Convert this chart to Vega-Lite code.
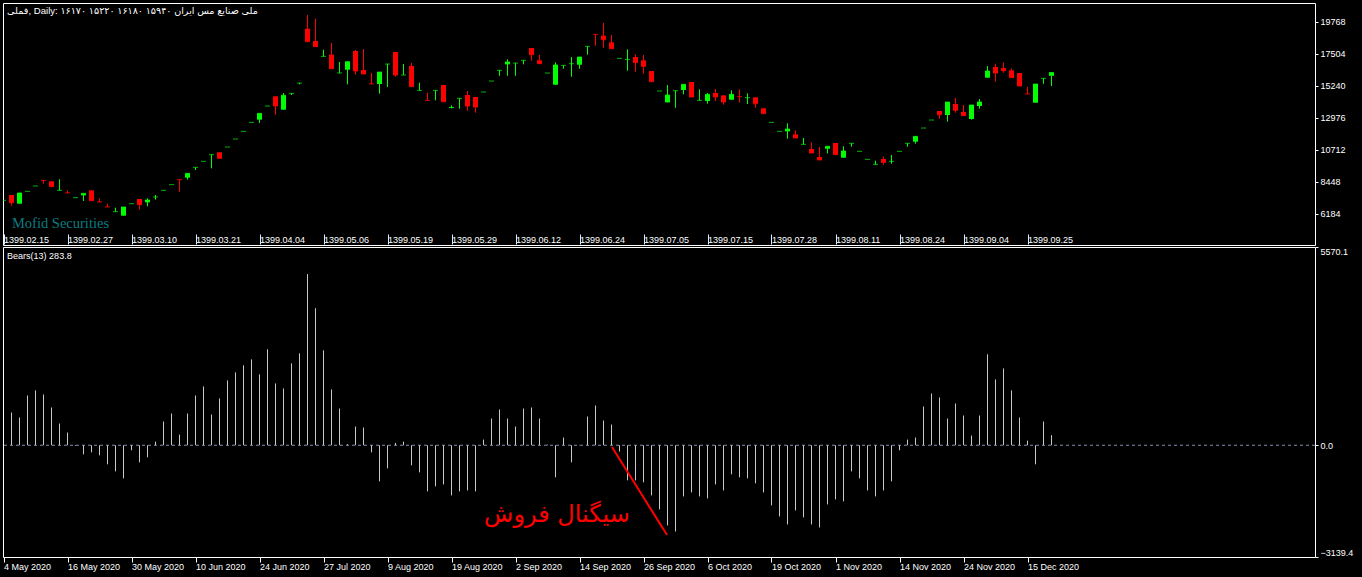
{
  "$schema": "https://vega.github.io/schema/vega-lite/v6.json",
  "background": "black",
  "padding": {"left": 2, "top": 2, "right": 15, "bottom": 10},
  "spacing": 2,
  "bounds": "flush",
  "config": {
    "view": {"stroke": "white", "strokeWidth": 1},
    "axis": {"labelColor": "white", "tickColor": "white", "domain": false, "grid": false, "labelFont": "Liberation Sans", "labelFontSize": 9, "title": null}
  },
  "datasets": {
    "candles": [
      {"i":0,"o":7129,"h":7129,"l":7129,"c":7129},
      {"i":1,"o":7506,"h":7506,"l":6752,"c":6964},
      {"i":2,"o":6893,"h":7648,"l":6893,"c":7648},
      {"i":3,"o":7766,"h":7766,"l":7766,"c":7766},
      {"i":4,"o":8143,"h":8143,"l":8143,"c":8143},
      {"i":5,"o":8564,"h":8564,"l":8308,"c":8544},
      {"i":6,"o":8473,"h":8473,"l":8096,"c":8096},
      {"i":7,"o":7836,"h":8615,"l":7836,"c":7836},
      {"i":8,"o":7668,"h":7836,"l":7648,"c":7648},
      {"i":9,"o":7318,"h":7318,"l":7318,"c":7318},
      {"i":10,"o":7483,"h":7624,"l":7082,"c":7624},
      {"i":11,"o":7836,"h":7836,"l":7106,"c":7106},
      {"i":12,"o":7031,"h":7271,"l":7011,"c":7011},
      {"i":13,"o":6678,"h":6893,"l":6658,"c":6658},
      {"i":14,"o":6327,"h":6610,"l":6327,"c":6327},
      {"i":15,"o":6044,"h":6658,"l":6044,"c":6658},
      {"i":16,"o":6893,"h":6893,"l":6893,"c":6893},
      {"i":17,"o":7224,"h":7224,"l":6469,"c":6823},
      {"i":18,"o":6988,"h":7271,"l":6705,"c":7153},
      {"i":19,"o":7365,"h":7506,"l":7176,"c":7365},
      {"i":20,"o":7836,"h":7836,"l":7836,"c":7836},
      {"i":21,"o":8237,"h":8237,"l":8237,"c":8237},
      {"i":22,"o":8611,"h":8611,"l":7742,"c":8591},
      {"i":23,"o":8733,"h":9039,"l":8591,"c":9039},
      {"i":24,"o":9463,"h":9463,"l":9275,"c":9463},
      {"i":25,"o":9888,"h":9888,"l":9888,"c":9888},
      {"i":26,"o":10360,"h":10360,"l":9393,"c":10360},
      {"i":27,"o":10525,"h":10525,"l":10100,"c":10100},
      {"i":28,"o":10902,"h":10902,"l":10902,"c":10902},
      {"i":29,"o":11468,"h":11468,"l":11468,"c":11468},
      {"i":30,"o":12010,"h":12010,"l":12010,"c":12010},
      {"i":31,"o":12647,"h":12647,"l":12647,"c":12647},
      {"i":32,"o":12835,"h":13283,"l":12600,"c":13283},
      {"i":33,"o":13802,"h":13802,"l":13802,"c":13802},
      {"i":34,"o":14486,"h":14486,"l":13189,"c":13802},
      {"i":35,"o":13543,"h":14722,"l":13543,"c":14557},
      {"i":36,"o":14699,"h":14699,"l":14581,"c":14699},
      {"i":37,"o":15429,"h":15429,"l":15335,"c":15429},
      {"i":38,"o":19273,"h":20240,"l":18353,"c":18353},
      {"i":39,"o":18400,"h":19980,"l":18000,"c":18000},
      {"i":40,"o":17316,"h":17787,"l":17316,"c":17316},
      {"i":41,"o":17434,"h":18259,"l":16443,"c":16443},
      {"i":42,"o":16137,"h":16915,"l":16137,"c":16137},
      {"i":43,"o":16372,"h":16938,"l":15335,"c":16938},
      {"i":44,"o":17693,"h":17764,"l":16019,"c":16278},
      {"i":45,"o":16349,"h":17834,"l":16066,"c":16066},
      {"i":46,"o":15379,"h":16137,"l":15359,"c":15359},
      {"i":47,"o":15359,"h":16207,"l":14675,"c":16207},
      {"i":48,"o":16773,"h":16773,"l":15146,"c":16773},
      {"i":49,"o":17622,"h":17622,"l":15877,"c":15995},
      {"i":50,"o":15995,"h":16773,"l":15995,"c":15995},
      {"i":51,"o":16632,"h":16844,"l":15170,"c":15170},
      {"i":52,"o":14910,"h":15453,"l":14910,"c":14910},
      {"i":53,"o":14223,"h":14745,"l":14203,"c":14203},
      {"i":54,"o":14910,"h":14910,"l":14203,"c":14910},
      {"i":55,"o":15288,"h":15288,"l":14109,"c":14109},
      {"i":56,"o":13660,"h":13849,"l":13637,"c":13700},
      {"i":57,"o":14345,"h":14345,"l":13614,"c":14345},
      {"i":58,"o":14580,"h":14863,"l":13472,"c":13802},
      {"i":59,"o":14439,"h":14439,"l":13331,"c":13732},
      {"i":60,"o":14793,"h":14793,"l":14793,"c":14793},
      {"i":61,"o":15571,"h":15571,"l":15571,"c":15571},
      {"i":62,"o":16325,"h":16325,"l":15948,"c":16325},
      {"i":63,"o":16750,"h":17103,"l":15948,"c":16915},
      {"i":64,"o":16844,"h":16844,"l":15948,"c":16844},
      {"i":65,"o":17033,"h":17033,"l":16750,"c":17033},
      {"i":66,"o":17905,"h":17905,"l":17009,"c":17434},
      {"i":67,"o":17033,"h":17410,"l":16797,"c":16797},
      {"i":68,"o":16137,"h":16137,"l":16137,"c":16137},
      {"i":69,"o":15311,"h":16891,"l":15311,"c":16703},
      {"i":70,"o":16679,"h":16679,"l":16443,"c":16679},
      {"i":71,"o":16797,"h":17268,"l":15877,"c":16797},
      {"i":72,"o":16726,"h":17268,"l":16443,"c":17268},
      {"i":73,"o":18023,"h":18023,"l":17434,"c":18023},
      {"i":74,"o":18892,"h":18892,"l":18070,"c":18872},
      {"i":75,"o":18778,"h":19674,"l":17929,"c":18495},
      {"i":76,"o":18306,"h":18825,"l":17858,"c":17858},
      {"i":77,"o":17174,"h":17174,"l":17174,"c":17174},
      {"i":78,"o":17103,"h":17811,"l":16302,"c":17103},
      {"i":79,"o":17268,"h":17457,"l":16231,"c":16868},
      {"i":80,"o":17033,"h":17410,"l":16090,"c":16608},
      {"i":81,"o":16278,"h":16278,"l":15523,"c":15523},
      {"i":82,"o":14863,"h":14863,"l":14863,"c":14863},
      {"i":83,"o":14062,"h":15288,"l":14062,"c":14580},
      {"i":84,"o":14887,"h":14887,"l":13684,"c":14887},
      {"i":85,"o":14934,"h":15335,"l":14628,"c":15335},
      {"i":86,"o":15500,"h":15500,"l":14439,"c":14439},
      {"i":87,"o":14203,"h":14981,"l":14203,"c":14203},
      {"i":88,"o":14156,"h":14722,"l":13967,"c":14628},
      {"i":89,"o":14722,"h":15005,"l":14156,"c":14439},
      {"i":90,"o":14557,"h":14557,"l":13897,"c":14085},
      {"i":91,"o":14250,"h":14910,"l":14250,"c":14628},
      {"i":92,"o":14483,"h":14981,"l":14038,"c":14463},
      {"i":93,"o":14392,"h":14698,"l":13944,"c":14392},
      {"i":94,"o":14415,"h":14415,"l":13684,"c":13967},
      {"i":95,"o":13637,"h":13637,"l":13260,"c":13260},
      {"i":96,"o":12647,"h":12647,"l":12647,"c":12647},
      {"i":97,"o":12010,"h":12010,"l":12010,"c":12010},
      {"i":98,"o":12010,"h":12576,"l":11491,"c":12175},
      {"i":99,"o":11798,"h":12081,"l":11539,"c":11539},
      {"i":100,"o":11091,"h":11539,"l":11091,"c":11091},
      {"i":101,"o":10760,"h":11232,"l":10477,"c":10477},
      {"i":102,"o":10195,"h":10902,"l":9982,"c":9982},
      {"i":103,"o":10784,"h":10949,"l":10454,"c":10949},
      {"i":104,"o":11185,"h":11185,"l":10360,"c":10360},
      {"i":105,"o":10147,"h":10949,"l":10147,"c":10619},
      {"i":106,"o":11161,"h":11161,"l":10925,"c":11161},
      {"i":107,"o":10595,"h":10595,"l":10595,"c":10595},
      {"i":108,"o":10029,"h":10029,"l":10029,"c":10029},
      {"i":109,"o":9676,"h":9935,"l":9676,"c":9676},
      {"i":110,"o":10053,"h":10218,"l":9652,"c":9817},
      {"i":111,"o":9888,"h":10336,"l":9723,"c":9888},
      {"i":112,"o":10595,"h":10595,"l":10595,"c":10595},
      {"i":113,"o":11161,"h":11161,"l":10925,"c":11161},
      {"i":114,"o":11279,"h":11657,"l":11137,"c":11657},
      {"i":115,"o":12246,"h":12246,"l":12246,"c":12246},
      {"i":116,"o":12812,"h":12812,"l":12812,"c":12812},
      {"i":117,"o":13449,"h":13449,"l":12906,"c":13189},
      {"i":118,"o":13166,"h":14085,"l":12694,"c":14085},
      {"i":119,"o":13944,"h":14368,"l":13331,"c":13496},
      {"i":120,"o":13378,"h":13873,"l":13118,"c":13118},
      {"i":121,"o":12882,"h":13873,"l":12835,"c":13873},
      {"i":122,"o":13802,"h":14297,"l":13614,"c":14085},
      {"i":123,"o":15807,"h":16632,"l":15807,"c":16278},
      {"i":124,"o":16561,"h":16797,"l":15523,"c":16137},
      {"i":125,"o":16490,"h":16891,"l":16160,"c":16302},
      {"i":126,"o":16325,"h":16467,"l":15807,"c":15807},
      {"i":127,"o":16137,"h":16137,"l":15217,"c":15217},
      {"i":128,"o":14671,"h":15146,"l":14651,"c":14651},
      {"i":129,"o":14038,"h":15359,"l":14038,"c":15359},
      {"i":130,"o":15759,"h":15759,"l":15382,"c":15759},
      {"i":131,"o":15940,"h":16180,"l":15220,"c":16170}
    ],
    "bears": [
      {"i":0,"b":0},{"i":1,"b":920},{"i":2,"b":779},{"i":3,"b":1399},{"i":4,"b":1540},{"i":5,"b":1427},{"i":6,"b":1061},{"i":7,"b":610},{"i":8,"b":357},{"i":9,"b":-20},
      {"i":10,"b":-254},{"i":11,"b":-197},{"i":12,"b":-282},{"i":13,"b":-535},{"i":14,"b":-732},{"i":15,"b":-930},{"i":16,"b":-141},{"i":17,"b":-479},{"i":18,"b":-338},{"i":19,"b":103},
      {"i":20,"b":667},{"i":21,"b":892},{"i":22,"b":300},{"i":23,"b":892},{"i":24,"b":1399},{"i":25,"b":1653},{"i":26,"b":864},{"i":27,"b":1315},{"i":28,"b":1822},{"i":29,"b":2047},
      {"i":30,"b":2244},{"i":31,"b":2413},{"i":32,"b":1991},{"i":33,"b":2695},{"i":34,"b":1737},{"i":35,"b":1596},{"i":36,"b":2301},{"i":37,"b":2582},{"i":38,"b":4808},{"i":39,"b":3850},
      {"i":40,"b":2667},{"i":41,"b":1568},{"i":42,"b":1033},{"i":43,"b":30},{"i":44,"b":526},{"i":45,"b":498},{"i":46,"b":-197},{"i":47,"b":-1014},{"i":48,"b":-648},{"i":49,"b":66},
      {"i":50,"b":103},{"i":51,"b":-563},{"i":52,"b":-761},{"i":53,"b":-1296},{"i":54,"b":-1155},{"i":55,"b":-1099},{"i":56,"b":-1409},{"i":57,"b":-1296},{"i":58,"b":-1268},{"i":59,"b":-1296},
      {"i":60,"b":160},{"i":61,"b":751},{"i":62,"b":1005},{"i":63,"b":751},{"i":64,"b":526},{"i":65,"b":1033},{"i":66,"b":1061},{"i":67,"b":751},{"i":68,"b":19},{"i":69,"b":-901},
      {"i":70,"b":216},{"i":71,"b":-479},{"i":72,"b":10},{"i":73,"b":808},{"i":74,"b":1117},{"i":75,"b":695},{"i":76,"b":582},{"i":77,"b":-178},{"i":78,"b":-986},{"i":79,"b":-986},
      {"i":80,"b":-1042},{"i":81,"b":-1409},{"i":82,"b":-1803},{"i":83,"b":-2254},{"i":84,"b":-2423},{"i":85,"b":-1437},{"i":86,"b":-1324},{"i":87,"b":-1437},{"i":88,"b":-1493},{"i":89,"b":-1099},
      {"i":90,"b":-1268},{"i":91,"b":-817},{"i":92,"b":-901},{"i":93,"b":-930},{"i":94,"b":-1070},{"i":95,"b":-1324},{"i":96,"b":-1690},{"i":97,"b":-2000},{"i":98,"b":-2225},{"i":99,"b":-1831},
      {"i":100,"b":-2028},{"i":101,"b":-2225},{"i":102,"b":-2310},{"i":103,"b":-1662},{"i":104,"b":-1521},{"i":105,"b":-1578},{"i":106,"b":-732},{"i":107,"b":-930},{"i":108,"b":-1268},{"i":109,"b":-1437},
      {"i":110,"b":-1268},{"i":111,"b":-1014},{"i":112,"b":-141},{"i":113,"b":160},{"i":114,"b":216},{"i":115,"b":1089},{"i":116,"b":1455},{"i":117,"b":1343},{"i":118,"b":751},{"i":119,"b":1174},
      {"i":120,"b":836},{"i":121,"b":272},{"i":122,"b":836},{"i":123,"b":2554},{"i":124,"b":1850},{"i":125,"b":2160},{"i":126,"b":1540},{"i":127,"b":779},{"i":128,"b":131},{"i":129,"b":-535},
      {"i":130,"b":667},{"i":131,"b":283.8}
    ]
  },
  "vconcat": [
    {
      "width": 1312,
      "height": 242,
      "layer": [
        {
          "data": {"name": "candles"},
          "mark": {"type": "rule", "strokeWidth": 1, "clip": true},
          "encoding": {
            "x": {"field": "i", "type": "quantitative", "scale": {"domain": [-0.0625, 163.9375], "nice": false, "zero": false, "padding": 0},
              "axis": {"orient": "bottom", "values": [0,8,16,24,32,40,48,56,64,72,80,88,96,104,112,120,128],
                "labelExpr": "['1399.02.15','1399.02.27','1399.03.10','1399.03.21','1399.04.04','1399.05.06','1399.05.19','1399.05.29','1399.06.12','1399.06.24','1399.07.05','1399.07.15','1399.07.28','1399.08.11','1399.08.24','1399.09.04','1399.09.25'][round(datum.value/8)]",
                "offset": -11, "tickSize": 10, "tickColor": "#d8f0ff", "labelAlign": "left", "labelDx": 2.5, "labelPadding": -5, "labelBaseline": "middle", "labelFlush": false, "labelOverlap": false, "labelBound": false}},
            "y": {"field": "l", "type": "quantitative", "scale": {"domain": [3969.5, 21091], "nice": false, "zero": false},
              "axis": {"orient": "right", "values": [6184, 8448, 10712, 12976, 15240, 17504, 19768], "format": "d", "tickSize": 3, "labelPadding": 2, "labelBaseline": "middle", "labelFlush": false}},
            "y2": {"field": "h"},
            "color": {"condition": {"test": "datum.c >= datum.o", "value": "#00ff00"}, "value": "#ff0000"}
          }
        },
        {
          "data": {"name": "candles"},
          "mark": {"type": "bar", "width": 5, "clip": true},
          "encoding": {
            "x": {"field": "i", "type": "quantitative"},
            "y": {"field": "o", "type": "quantitative"},
            "y2": {"field": "c"},
            "color": {"condition": {"test": "datum.c >= datum.o", "value": "#00ff00"}, "value": "#ff0000"}
          }
        },
        {
          "data": {"name": "candles"},
          "mark": {"type": "tick", "orient": "horizontal", "size": 5, "thickness": 1, "clip": true},
          "encoding": {
            "x": {"field": "i", "type": "quantitative"},
            "y": {"field": "c", "type": "quantitative"},
            "color": {"condition": {"test": "datum.c >= datum.o", "value": "#00ff00"}, "value": "#ff0000"}
          }
        },
        {
          "data": {"values": [{"label": "فملی, Daily: ۱۶۱۷۰ ۱۵۲۲۰ ۱۶۱۸۰ ۱۵۹۴۰  ملی صنایع مس ایران"}]},
          "mark": {"type": "text", "align": "left", "baseline": "middle", "color": "white", "font": "Liberation Sans, DejaVu Sans", "fontSize": 9.6},
          "encoding": {
            "x": {"datum": 0.45, "type": "quantitative"},
            "y": {"datum": 20525, "type": "quantitative"},
            "text": {"field": "label"}
          }
        },
        {
          "data": {"values": [{"label": "Mofid Securities"}]},
          "mark": {"type": "text", "align": "left", "baseline": "middle", "color": "#0b7d80", "font": "Liberation Serif", "fontSize": 14.5},
          "encoding": {
            "x": {"datum": 1.06, "type": "quantitative"},
            "y": {"datum": 5420, "type": "quantitative"},
            "text": {"field": "label"}
          }
        }
      ]
    },
    {
      "width": 1312,
      "height": 310,
      "layer": [
        {
          "data": {"values": [{"level": 0}]},
          "mark": {"type": "rule", "color": "#8090a8", "strokeDash": [3, 3], "strokeWidth": 1},
          "encoding": {
            "y": {"field": "level", "type": "quantitative", "scale": {"domain": [-3139.4, 5570.1], "nice": false, "zero": false},
              "axis": {"orient": "right", "values": [-3139.4, 0, 5570.1], "format": ".1f", "tickSize": 3, "labelPadding": 2, "labelFlush": true, "labelFlushOffset": 0}}
          }
        },
        {
          "data": {"name": "bears"},
          "mark": {"type": "rule", "color": "#c8c8c8", "strokeWidth": 1, "clip": true},
          "encoding": {
            "x": {"field": "i", "type": "quantitative", "scale": {"domain": [-0.0625, 163.9375], "nice": false, "zero": false, "padding": 0},
              "axis": {"orient": "bottom", "values": [0,8,16,24,32,40,48,56,64,72,80,88,96,104,112,120,128],
                "labelExpr": "['4 May 2020','16 May 2020','30 May 2020','10 Jun 2020','24 Jun 2020','27 Jul 2020','9 Aug 2020','19 Aug 2020','2 Sep 2020','14 Sep 2020','26 Sep 2020','6 Oct 2020','19 Oct 2020','1 Nov 2020','14 Nov 2020','24 Nov 2020','15 Dec 2020'][round(datum.value/8)]",
                "tickSize": 5, "labelAlign": "left", "labelDx": 0.5, "labelPadding": 0, "labelBaseline": "top", "labelFlush": false, "labelOverlap": false, "labelBound": false}},
            "y": {"field": "b", "type": "quantitative"},
            "y2": {"datum": 0}
          }
        },
        {
          "data": {"values": [{"note": "sell signal"}]},
          "mark": {"type": "rule", "color": "#ff0000", "strokeWidth": 2},
          "encoding": {
            "x": {"datum": 76.06, "type": "quantitative"},
            "x2": {"datum": 82.94},
            "y": {"datum": -49, "type": "quantitative"},
            "y2": {"datum": -2521}
          }
        },
        {
          "data": {"values": [{"label": "سیگنال فروش"}]},
          "mark": {"type": "text", "align": "center", "baseline": "middle", "color": "#ff0000", "font": "DejaVu Sans", "fontSize": 24},
          "encoding": {
            "x": {"datum": 69.19, "type": "quantitative"},
            "y": {"datum": -1960, "type": "quantitative"},
            "text": {"field": "label"}
          }
        },
        {
          "data": {"values": [{"label": "Bears(13) 283.8"}]},
          "mark": {"type": "text", "align": "left", "baseline": "middle", "color": "white", "font": "Liberation Sans", "fontSize": 9},
          "encoding": {
            "x": {"datum": 0.45, "type": "quantitative"},
            "y": {"datum": 5317, "type": "quantitative"},
            "text": {"field": "label"}
          }
        }
      ]
    }
  ]
}
